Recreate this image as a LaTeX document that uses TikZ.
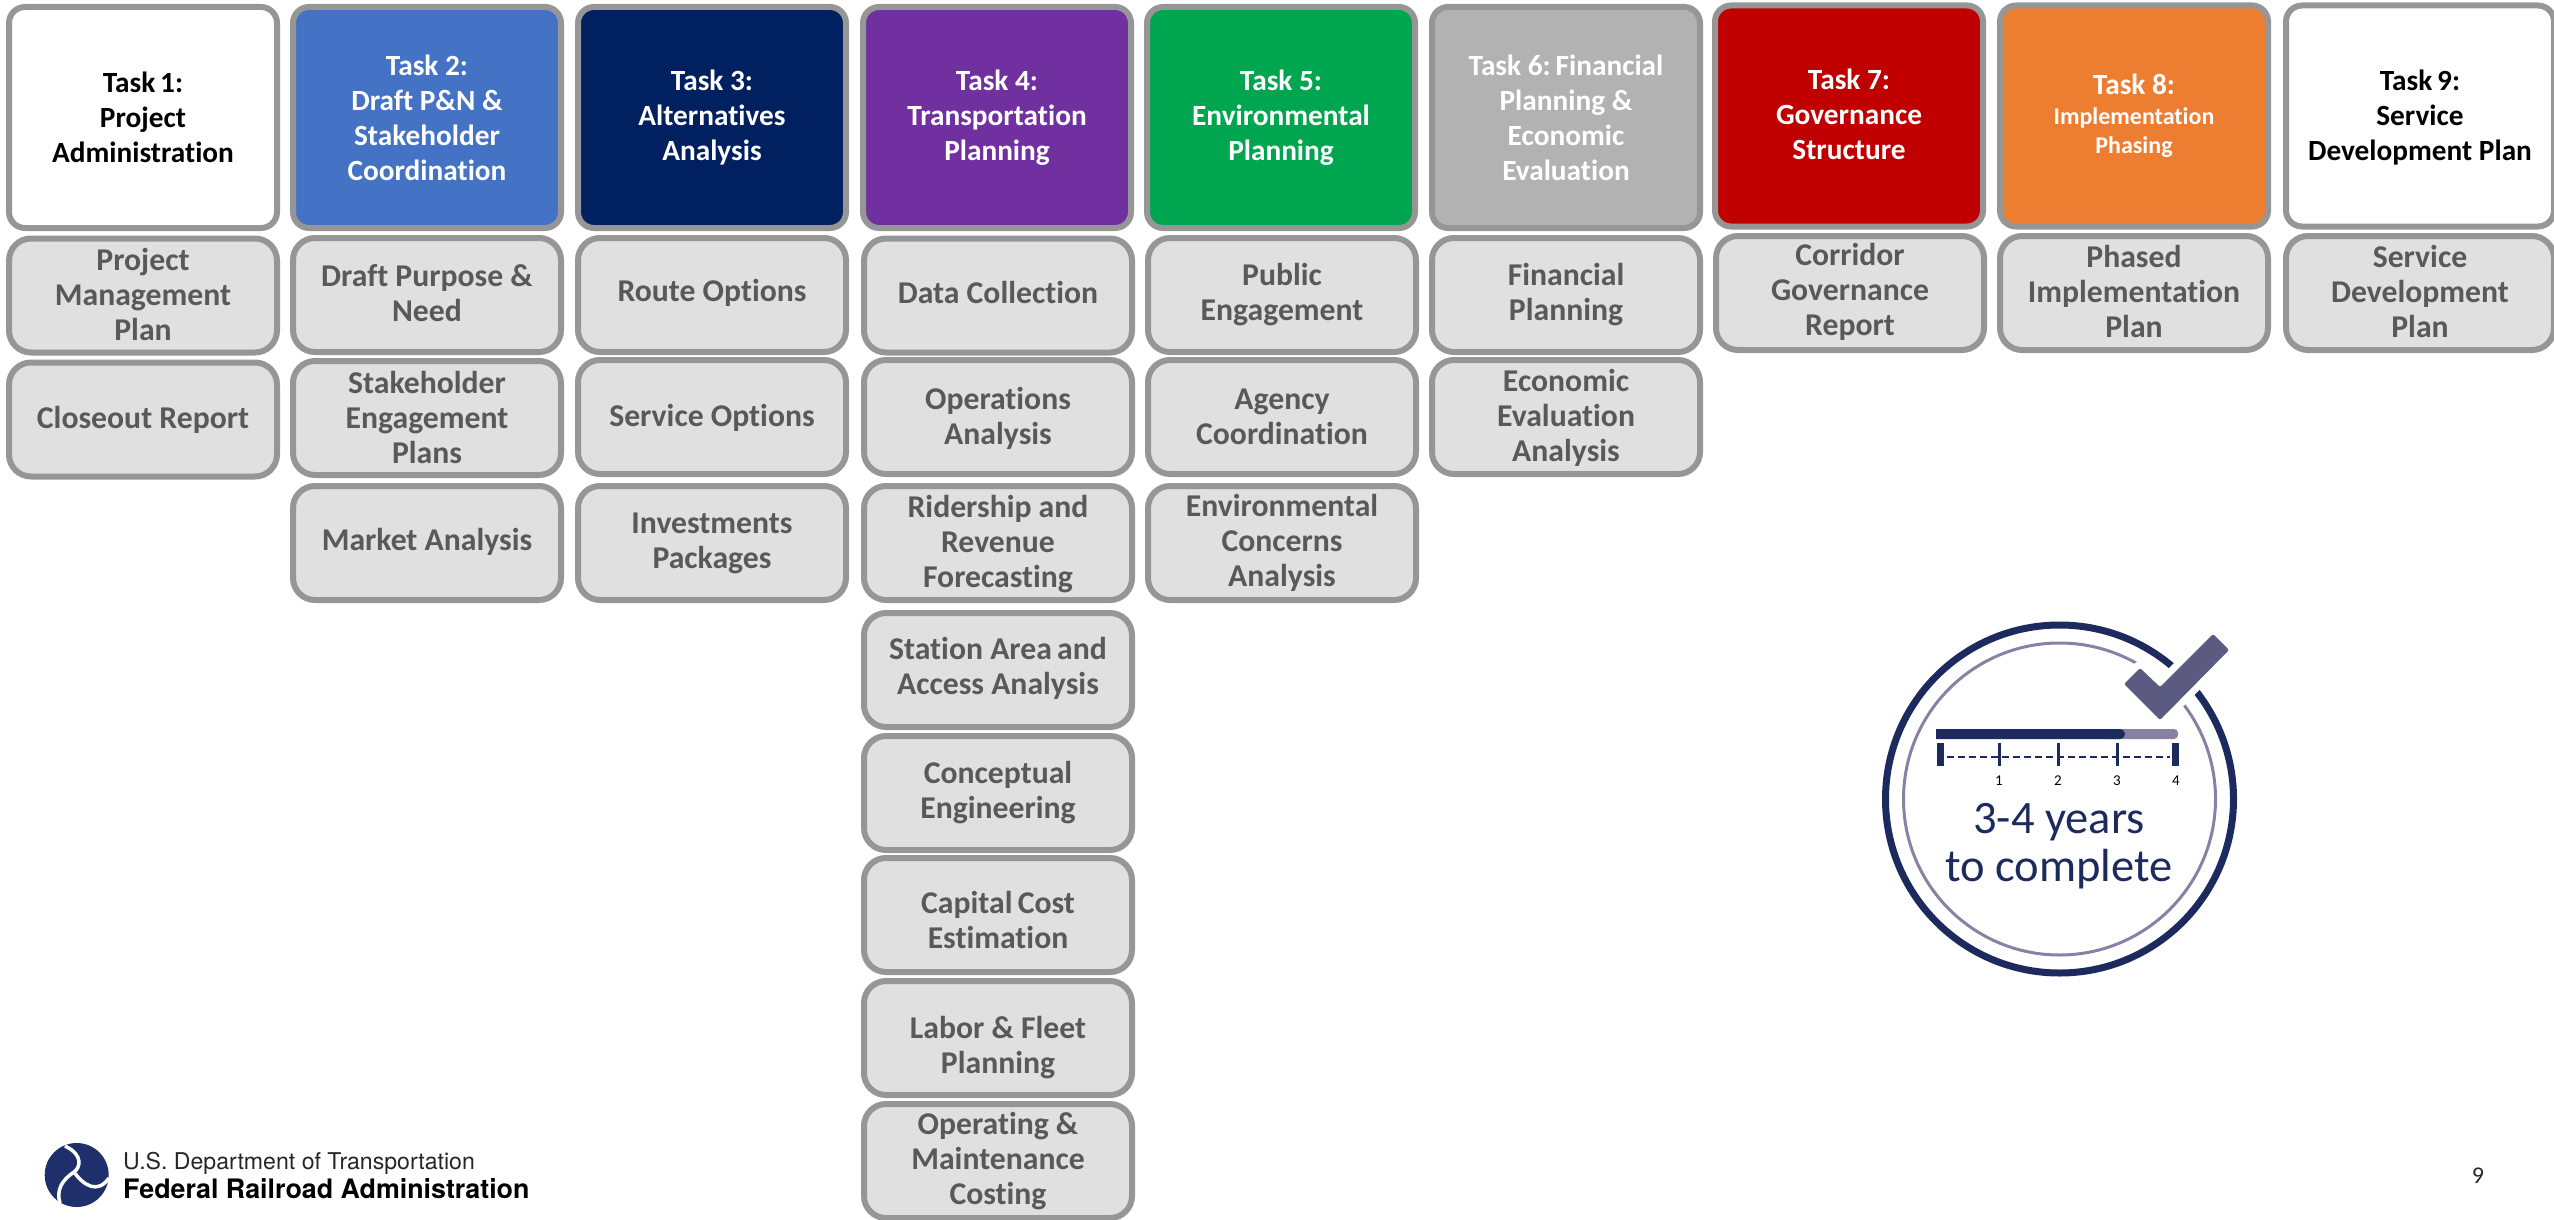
\documentclass[tikz,border=0pt]{standalone}
\usepackage{fontspec}
\setmainfont[Ligatures=NoCommon]{Carlito}
\newfontfamily\logofont{TeX Gyre Heros}
\usetikzlibrary{positioning}
\definecolor{boxline}{HTML}{969696}
\definecolor{subfill}{HTML}{E0E0E0}
\definecolor{subtext}{HTML}{595959}
\definecolor{taskblue}{HTML}{4472C4}
\definecolor{tasknavy}{HTML}{002060}
\definecolor{taskpurple}{HTML}{7030A0}
\definecolor{taskgreen}{HTML}{00A64F}
\definecolor{taskgray}{HTML}{B2B2B2}
\definecolor{taskred}{HTML}{C00000}
\definecolor{taskorange}{HTML}{ED7D31}
\definecolor{badgenavy}{HTML}{1C2A5E}
\definecolor{badgelilac}{HTML}{8A80A5}
\definecolor{badgecheck}{HTML}{5B5A80}
\definecolor{logonavy}{HTML}{1F2F6B}
\newcommand{\droptext}[1]{\rule{0pt}{#1pt}}
\newcommand{\lifttext}[1]{\rule[-#1pt]{0pt}{1pt}}
\tikzset{
	taskbox/.style={draw=boxline,line width=6pt,rounded corners=16pt,minimum width=268pt,minimum height=221pt,inner sep=0pt,align=center,text=white,font=\fontsize{29.3}{35}\selectfont\bfseries},
	subbox/.style={draw=boxline,line width=6pt,rounded corners=22pt,fill=subfill,minimum width=268pt,minimum height=114pt,inner sep=0pt,align=center,text=subtext,font=\fontsize{31.7}{35}\selectfont\bfseries},
	yeartext/.style={text=badgenavy,font=\fontsize{46.5}{46.5}\selectfont},
	ticktext/.style={text=black,inner sep=0pt,font=\fontsize{15}{15}\selectfont},
}
\begin{document}
\begin{tikzpicture}[x=1pt,y=-1pt]
	\useasboundingbox (0,0) rectangle (2554,1220);
	% task headers
	\node [taskbox,fill=white,text=black] (task1) at (143,117.5) {Task\,1:\\Project\\Administration};
	\node [taskbox,fill=taskblue] (task2) at (427,117.5) {Task 2:\\Draft P\&N \&\\Stakeholder\\Coordination};
	\node [taskbox,fill=tasknavy] (task3) at (712,117.5) {Task 3:\\Alternatives\\Analysis};
	\node [taskbox,fill=taskpurple] (task4) at (997,117.5) {Task 4:\\Transportation\\Planning};
	\node [taskbox,fill=taskgreen] (task5) at (1281,117.5) {Task 5:\\Environmental\\Planning};
	\node [taskbox,fill=taskgray] (task6) at (1566,117.5) {Task 6:\,Financial\\Planning \&\\Economic\\Evaluation};
	\node [taskbox,fill=taskred] (task7) at (1849,116) {Task 7:\\Governance\\Structure\lifttext{3}};
	\node [taskbox,fill=taskorange,font=\fontsize{24}{29.5}\selectfont\bfseries] (task8) at (2134,116) {{\fontsize{29.3}{32}\selectfont Task 8:}\\Implementation\\Phasing};
	\node [taskbox,fill=white,text=black] (task9) at (2420,116) {\droptext{24}Task\,9:\\Service\\Development Plan};
	% column 1
	\node [subbox] (pmp) at (143,295.5) {Project\\Management\\Plan\lifttext{3}};
	\node [subbox] (closeout) at (143,419.5) {Closeout Report\lifttext{4}};
	% column 2
	\node [subbox] (purpose) at (427,295) {Draft Purpose \&\\Need\lifttext{4}};
	\node [subbox] (engage) at (427,418) {Stakeholder\\Engagement\\Plans\lifttext{2}};
	\node [subbox] (market) at (427,543) {Market Analysis\lifttext{8}};
	% column 3
	\node [subbox] (route) at (712,295) {Route Options\lifttext{9}};
	\node [subbox] (service) at (712,417) {\droptext{24}Service Options};
	\node [subbox] (invest) at (712,543) {Investments\\Packages};
	% column 4
	\node [subbox] (data) at (998,295.5) {Data Collection\lifttext{7}};
	\node [subbox] (ops) at (998,417) {\droptext{24}Operations\\Analysis};
	\node [subbox] (rider) at (998,543) {\droptext{24}Ridership and\\Revenue\\Forecasting};
	\node [subbox] (station) at (998,670) {Station Area\,and\\Access Analysis\lifttext{8}};
	\node [subbox] (concept) at (998,793) {Conceptual\\Engineering};
	\node [subbox] (capital) at (998,915) {\droptext{32}Capital\,Cost\\Estimation};
	\node [subbox] (labor) at (998,1038) {\droptext{42}Labor \& Fleet\\Planning};
	\node [subbox] (omcost) at (998,1161) {Operating \&\\Maintenance\\Costing\lifttext{6}};
	% column 5
	\node [subbox] (public) at (1282,295) {Public\\Engagement};
	\node [subbox] (agency) at (1282,417) {Agency\\Coordination};
	\node [subbox] (concerns) at (1282,543) {Environmental\\Concerns\\Analysis};
	% column 6
	\node [subbox] (finance) at (1566,295) {Financial\\Planning};
	\node [subbox] (economic) at (1566,417) {\droptext{24}Economic\\Evaluation\\Analysis};
	% columns 7 to 9
	\node [subbox] (corridor) at (1850,293) {Corridor\\Governance\\Report\lifttext{8}};
	\node [subbox] (phased) at (2134,293) {Phased\\Implementation\\Plan\lifttext{3}};
	\node [subbox] (sdp) at (2420,293) {Service\\Development\\Plan\lifttext{3}};
	% badge
	\draw [badgenavy,line width=7pt] (2059.5,799) circle (174);
	\draw [badgelilac,line width=3pt] (2059.5,799) circle (156);
	\draw [white,line width=14pt,line join=round,fill=white] (2213,634) -- (2229,650) -- (2160,720) -- (2124,684) -- (2140,668) -- (2160,687) -- cycle;
	\fill [badgecheck,rounded corners=2pt] (2213,634) -- (2229,650) -- (2160,720) -- (2124,684) -- (2140,668) -- (2160,687) -- cycle;
	\fill [badgelilac,rounded corners=4pt] (2100,729) rectangle (2178,739);
	\fill [badgenavy] (1936,729) -- (2120,729) arc (-90:90:5) -- (1936,739) -- cycle;
	\fill [badgenavy] (1937,743) rectangle (1944,766);
	\fill [badgenavy] (2172,743) rectangle (2179,766);
	\foreach \tickx in {1999,2058,2117} {
		\draw [badgenavy,line width=3pt] (\tickx,743) -- (\tickx,766);
	}
	\draw [badgenavy,line width=2.5pt,dash pattern=on 7pt off 4pt] (1947,757) -- (2170,757);
	\node [ticktext] (tick1) at (1999,781) {1};
	\node [ticktext] (tick2) at (2058,781) {2};
	\node [ticktext] (tick3) at (2117,781) {3};
	\node [ticktext] (tick4) at (2176,781) {4};
	\node [yeartext] (years) at (2059,822) {3-4 years};
	\node [yeartext] (complete) at (2059,869) {to complete};
	% logo
	\fill [logonavy] (76.7,1175) circle (32);
	\draw [white,line width=3.5pt] (65,1146) .. controls (84,1155) and (80,1168) .. (74,1172) .. controls (62,1180) and (56,1190) .. (60,1203);
	\draw [white,line width=3.5pt] (74,1172) .. controls (84,1186) and (98,1194) .. (109,1178);
	\node [anchor=west,inner sep=0pt,font=\logofont\fontsize{23.1}{24}\selectfont,text=black!85] (dot) at (123,1163) {U.S. Department of Transportation};
	\node [anchor=west,inner sep=0pt,font=\logofont\fontsize{26.8}{27}\selectfont\bfseries] (fra) at (123,1189) {Federal Railroad Administration};
	% page number
	\node [inner sep=0pt,text=black!85,font=\fontsize{24}{24}\selectfont] (pagenum) at (2478,1176) {9};
\end{tikzpicture}
\end{document}
